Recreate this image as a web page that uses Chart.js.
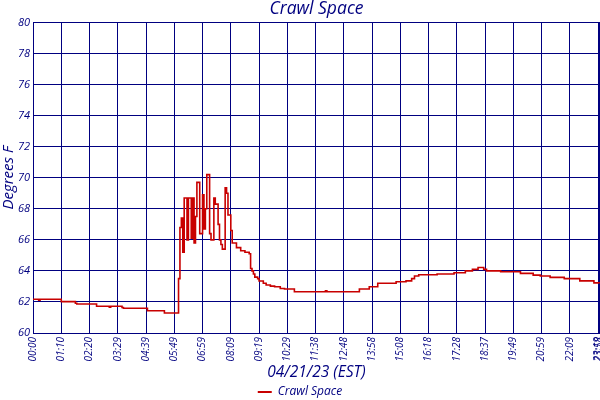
<!DOCTYPE html>
<html><head><meta charset="utf-8">
<script src="https://cdn.jsdelivr.net/npm/chart.js@4.4.0/dist/chart.umd.min.js"></script>
<style>html,body{margin:0;padding:0;background:#fff;}canvas{display:block;}</style>
</head><body>
<canvas id="c" width="600" height="400"></canvas>
<script>
const chartTitle = 'Crawl Space';
const seriesName = 'Crawl Space';
const xAxisTitle = '04/21/23 (EST)';
const yAxisTitle = 'Degrees F';
const yTickValues = [60, 62, 64, 66, 68, 70, 72, 74, 76, 78, 80];
const tickIdx = [0, 20, 40, 60, 80, 100, 120, 140, 160, 180, 200, 220, 240, 260, 280, 300, 320, 340, 360, 380, 400, 401];
const tickLabels = ['00:00','01:10','02:20','03:29','04:39','05:49','06:59','08:09','09:19','10:29','11:38','12:48','13:58','15:08','16:18','17:28','18:37','19:49','20:59','22:09','23:19','23:58'];
const sampleIdx = [0, 4, 5, 20, 30, 31, 45, 54, 55, 63, 64, 81, 93, 103, 104,
  105, 106, 107, 109, 110, 112, 113, 114, 115, 116, 118, 120, 121, 122, 123, 125, 126, 128, 129, 131, 132, 133, 134,
  136, 137, 138, 140, 141, 144, 147, 150, 153, 154, 155, 156, 157, 159, 160, 163, 165, 168, 171, 175, 178, 185,
  207, 208, 231, 238, 244, 257, 264, 268, 270, 273, 286, 298, 306, 311, 315, 319, 321, 331, 345, 354, 359, 366, 376, 387, 397, 401];
const tempF = [62.17, 62.12, 62.17, 62.02, 61.92, 61.87, 61.72, 61.66, 61.72, 61.64, 61.59, 61.43, 61.29, 63.5, 66.8,
  67.4, 65.2, 68.7, 66.0, 68.7, 66.1, 68.7, 65.8, 67.5, 69.7, 66.4, 68.9, 66.7, 68.0, 70.2, 66.4, 66.0, 68.7, 68.3, 67.0, 66.0, 65.7, 65.4,
  69.35, 69.0, 67.6, 66.6, 65.8, 65.5, 65.3, 65.2, 65.1, 64.15, 64.0, 63.8, 63.6, 63.5, 63.35, 63.2, 63.09, 63.02, 62.98, 62.87, 62.83, 62.66,
  62.72, 62.66, 62.83, 62.98, 63.2, 63.3, 63.36, 63.5, 63.67, 63.75, 63.8, 63.88, 64.0, 64.1, 64.22, 64.1, 64.0, 63.95, 63.84, 63.73, 63.67, 63.58, 63.5, 63.36, 63.23, 63.2];

const NAVY = '#000080';
const RED = '#c80000';
const FONT = "'Open Sans', 'DejaVu Sans', sans-serif";
const f = (size) => ({family: FONT, size: size, style: 'italic', weight: 'normal'});
const BOTTOM_SHIFT = 8;

new Chart(document.getElementById('c'), {
  type: 'line',
  data: {
    datasets: [{
      label: seriesName,
      data: sampleIdx.map((x, i) => ({x: x, y: tempF[i]})),
      borderColor: RED,
      backgroundColor: RED,
      borderWidth: 1.6,
      pointRadius: 0,
      stepped: true,
      fill: false
    }]
  },
  options: {
    responsive: false,
    animation: false,
    devicePixelRatio: 1,
    layout: {padding: {left: 0, right: 0, top: 0, bottom: -BOTTOM_SHIFT}},
    plugins: {
      title: {display: true, fullSize: false, text: chartTitle, color: NAVY, font: f(17.5), padding: {top: -1, bottom: 2.5}},
      legend: {position: 'bottom', labels: {color: NAVY, font: f(12), boxWidth: 14, boxHeight: 2, padding: 4,
        generateLabels: chart => Chart.defaults.plugins.legend.labels.generateLabels(chart).map(l => Object.assign(l, {lineWidth: 0}))}},
      tooltip: {enabled: false}
    },
    scales: {
      x: {
        type: 'linear', min: 0, max: 401.3,
        afterBuildTicks: s => { s.ticks = tickIdx.map(v => ({value: v})); },
        afterFit: s => { s.paddingLeft = 0; s.paddingRight = 0; s.height = 400 + BOTTOM_SHIFT - 333 - s.chart.legend.height; },
        grid: {color: NAVY, lineWidth: 1, drawTicks: false},
        border: {color: NAVY, width: 1},
        ticks: {autoSkip: false, maxRotation: 90, minRotation: 90, color: NAVY, font: f(10), padding: 4,
          callback: (v, i) => tickLabels[i]},
        title: {display: true, text: xAxisTitle, color: NAVY, font: f(15.5), padding: {top: 0, bottom: 0}}
      },
      y: {
        min: 60, max: 80,
        afterBuildTicks: s => { s.ticks = yTickValues.map(v => ({value: v})); },
        afterFit: s => { s.width = 33; s.paddingTop = 0; s.paddingBottom = 0; },
        grid: {color: NAVY, lineWidth: 1, drawTicks: false},
        border: {color: NAVY, width: 1},
        ticks: {color: NAVY, font: f(11), padding: 3},
        title: {display: true, text: yAxisTitle, color: NAVY, font: f(15), padding: 0}
      }
    }
  }
});
</script>
</body></html>
